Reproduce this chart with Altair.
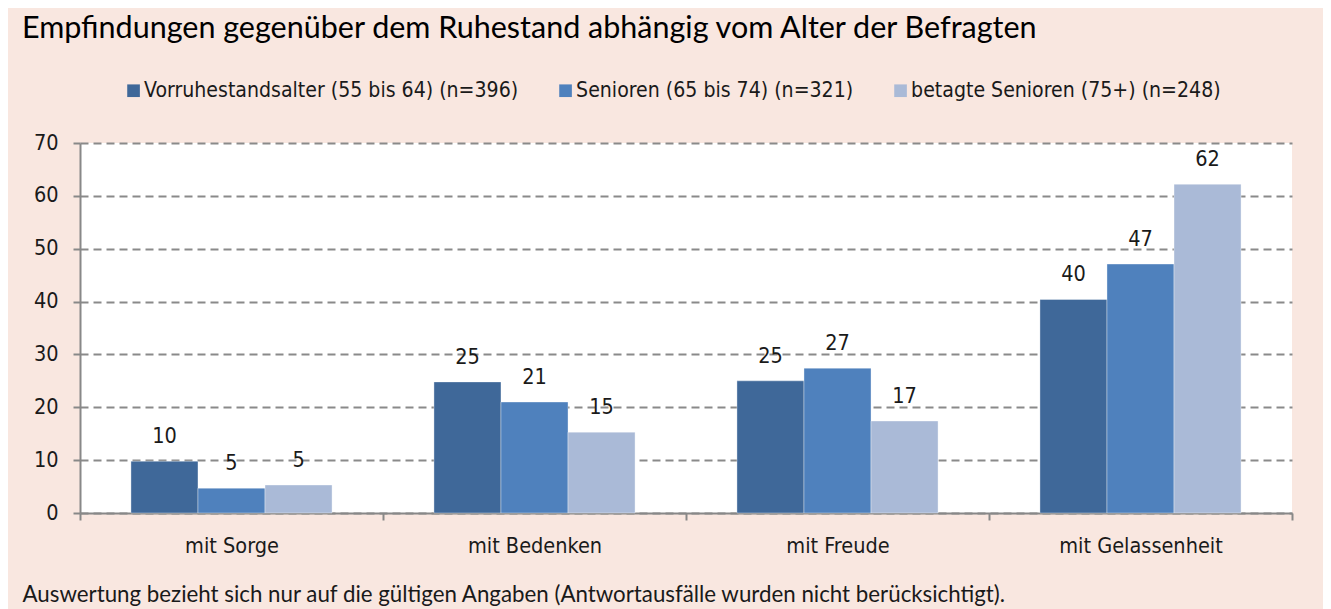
import altair as alt
import pandas as pd

categories = ["mit Sorge", "mit Bedenken", "mit Freude", "mit Gelassenheit"]
series = [
    "Vorruhestandsalter (55 bis 64) (n=396)",
    "Senioren (65 bis 74) (n=321)",
    "betagte Senioren (75+) (n=248)",
]
vorruhestand = [9.8, 24.8, 25.0, 40.4]
senioren = [4.7, 21.0, 27.4, 47.1]
betagte = [5.3, 15.3, 17.4, 62.2]
colors = ["#3F6899", "#4F81BD", "#AABAD7"]

title_text = "Empfindungen gegenüber dem Ruhestand abhängig vom Alter der Befragten"
footer_text = "Auswertung bezieht sich nur auf die gültigen Angaben (Antwortausfälle wurden nicht berücksichtigt)."

rows = []
for s, vals in zip(series, [vorruhestand, senioren, betagte]):
    for c, v in zip(categories, vals):
        rows.append({"Kategorie": c, "Gruppe": s, "Wert": v})
df = pd.DataFrame(rows)

NARROW = "DejaVu Sans Condensed, DejaVu Sans, sans-serif"
MAIN = "Lato, Open Sans, sans-serif"
FS = 21.5

x = alt.X(
    "Kategorie:N",
    sort=categories,
    scale=alt.Scale(paddingInner=0, paddingOuter=0),
    axis=alt.Axis(
        title=footer_text,
        titleFont=MAIN,
        titleFontSize=22.3,
        titleFontWeight="normal",
        titleColor="#1a1a1a",
        titleAnchor="start",
        titleAlign="left",
        titleBaseline="alphabetic",
        titleX=-58,
        titleY=88,
        labelFont=NARROW,
        labelFontSize=FS,
        labelColor="#1a1a1a",
        labelPadding=15,
        labelAngle=0,
        labelLimit=400,
        tickBand="extent",
        tickSize=7,
        tickWidth=2,
        tickColor="#888888",
        domainColor="#888888",
        domainWidth=2,
        grid=False,
    ),
)
y = alt.Y(
    "Wert:Q",
    scale=alt.Scale(domain=[0, 70], nice=False),
    axis=alt.Axis(
        title=None,
        values=[0, 10, 20, 30, 40, 50, 60, 70],
        labelFont=NARROW,
        labelFontSize=FS,
        labelColor="#1a1a1a",
        labelPadding=15,
        tickSize=7,
        tickWidth=2,
        tickColor="#888888",
        domainColor="#888888",
        domainWidth=2,
        grid=True,
        gridColor="#8a8a8a",
        gridDash=[8, 5],
        gridWidth=2,
    ),
)
xoff = alt.XOffset(
    "Gruppe:N", sort=series, scale=alt.Scale(paddingInner=0, paddingOuter=0.76)
)

bars = alt.Chart(df).mark_bar(stroke="#ffffff", strokeWidth=0.6, strokeOpacity=0.6).encode(
    x=x,
    xOffset=xoff,
    y=y,
    color=alt.Color(
        "Gruppe:N",
        sort=series,
        scale=alt.Scale(domain=series, range=colors),
        legend=alt.Legend(
            title=None,
            orient="none",
            legendX=43,
            legendY=-63,
            padding=0,
            direction="horizontal",
            symbolType="square",
            symbolSize=160,
            symbolStrokeWidth=0,
            labelFont=NARROW,
            labelFontSize=21.1,
            labelColor="#1a1a1a",
            labelOffset=0,
            columnPadding=36,
            labelLimit=600,
        ),
    ),
)

texts = alt.Chart(df).mark_text(
    baseline="bottom", dy=-13, font=NARROW, fontSize=FS, color="#1a1a1a"
).encode(
    x=alt.X("Kategorie:N", sort=categories),
    xOffset=xoff,
    y=alt.Y("Wert:Q"),
    text=alt.Text("Wert:Q", format=".0f"),
)

chart = (
    alt.layer(bars, texts)
    .properties(
        width=1212,
        height=370,
        padding={"left": 72, "top": 135, "right": 31, "bottom": 96},
        autosize=alt.AutoSizeParams(type="none"),
        background="#F9E7E0",
        title=alt.TitleParams(
            text=title_text,
            font=MAIN,
            fontSize=30.5,
            fontWeight="normal",
            color="#000000",
            anchor="start",
            frame="group",
            baseline="alphabetic",
            dx=-58,
            offset=12,
        ),
    )
    .configure_view(fill="#ffffff", stroke=None)
)

chart.save("out.html", embed_options={"renderer": "svg", "actions": False})
